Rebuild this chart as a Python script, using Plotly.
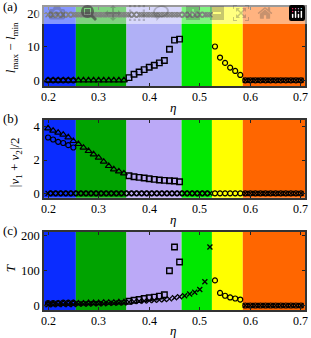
import plotly.graph_objects as go

# ---------------- data ----------------
# region boundaries along eta
REGION_EDGES = [0.19, 0.255, 0.355, 0.464, 0.524, 0.585, 0.71]
REGION_COLORS_A = ["#0a2cff", "#00a300", "#b0b0f6", "#00e800", "#ffff00", "#ff6600"]
REGION_COLORS_BC = ["#0a2cff", "#00a300", "#bba9f7", "#00e800", "#ffff00", "#ff6600"]

ETA_TRI = [0.20, 0.21, 0.22, 0.23, 0.24, 0.25, 0.26, 0.27, 0.28, 0.29, 0.30, 0.31, 0.32, 0.33, 0.34, 0.35]
ETA_CIRC_BLUE = [0.20, 0.21, 0.22, 0.23, 0.24, 0.25]
ETA_SQ = [0.36, 0.37, 0.38, 0.39, 0.40, 0.41, 0.42, 0.43, 0.44, 0.45, 0.46]
ETA_X = [0.20, 0.21, 0.22, 0.23, 0.24, 0.25, 0.26, 0.27, 0.28, 0.29, 0.30, 0.31, 0.32, 0.33, 0.34, 0.35,
         0.36, 0.37, 0.38, 0.39, 0.40, 0.41, 0.42, 0.43, 0.44, 0.45, 0.46,
         0.47, 0.48, 0.49, 0.50, 0.51, 0.52]
ETA_X_HALF = [0.205, 0.215, 0.225, 0.235, 0.245, 0.255, 0.265, 0.275, 0.285, 0.295, 0.305, 0.315, 0.325,
              0.335, 0.345, 0.355, 0.365, 0.375, 0.385, 0.395, 0.405, 0.415, 0.425, 0.435, 0.445, 0.455,
              0.465, 0.475, 0.485, 0.495, 0.505, 0.515]
ETA_CIRC_YEL = [0.53, 0.54, 0.55, 0.56, 0.57, 0.58]
ETA_ORANGE = [0.59, 0.60, 0.61, 0.62, 0.63, 0.64, 0.65, 0.66, 0.67, 0.68, 0.69, 0.70]

# panel (a): l_max - l_min
A_TRI = [0, 0, 0, 0, 0, 0, 0, 0, 0, 0, 0, 0, 0, 0, 0, 0]
A_CIRC_BLUE = [0, 0, 0, 0, 0, 0]
A_SQ = [0.8, 1.8, 2.5, 3.2, 3.9, 4.5, 5.2, 5.9, 9.3, 12.0, 12.3]
A_X = [19.6, 19.6, 19.6, 19.6, 19.6, 19.6, 19.6, 19.6, 19.6, 19.6, 19.6, 19.6, 19.6, 19.6, 19.6, 19.6,
       19.6, 19.6, 19.6, 19.6, 19.6, 19.6, 19.6, 19.6, 19.6, 19.6, 19.6,
       19.6, 19.6, 19.6, 19.6, 19.6, 19.6]
# second (half-step) marks on the top row, with the symbol of each point
A_HALF = [19.6, 19.6, 19.6, 19.6, 19.6, 19.6, 19.6, 19.6, 19.6, 19.6, 19.6, 19.6, 19.6, 19.6, 19.6, 19.6,
          19.6, 19.6, 19.6, 19.6, 19.6, 19.6, 19.6, 19.6, 19.6, 19.6, 19.6, 19.6, 19.6, 19.6, 19.6, 19.6]
A_HALF_SYM = ["o", "o", "o", "o", "o", "x", "x", "x", "x", "x", "x", "x", "x", "x", "x", "x",
              "o", "o", "x", "x", "x", "x", "x", "x", "x", "x", "o", "o", "o", "o", "o", "x"]
A_CIRC_YEL = [10.1, 6.8, 5.2, 3.8, 2.8, 1.6]
A_ORANGE = [0, 0, 0, 0, 0, 0, 0, 0, 0, 0, 0, 0]

# panel (b): |v1 + v2|/2
B_TRI = [3.90, 3.76, 3.64, 3.52, 3.36, 3.14, 2.96, 2.74, 2.54, 2.34, 2.14, 1.90, 1.64, 1.44, 1.32, 1.20]
B_CIRC_BLUE = [3.35, 3.23, 3.09, 3.02, 2.89, 2.75]
B_SQ = [1.06, 1.00, 0.96, 0.92, 0.88, 0.84, 0.80, 0.78, 0.76, 0.74, 0.70]
B_X = [0, 0, 0, 0, 0, 0, 0, 0, 0, 0, 0, 0, 0, 0, 0, 0, 0, 0, 0, 0, 0, 0, 0, 0, 0, 0, 0, 0, 0, 0, 0, 0, 0]
B_HALF = [0, 0, 0, 0, 0, 0, 0, 0, 0, 0, 0, 0, 0, 0, 0, 0, 0, 0, 0, 0, 0, 0, 0, 0, 0, 0, 0, 0, 0, 0, 0, 0]
B_CIRC_YEL = [0, 0, 0, 0, 0, 0]
B_ORANGE = [0, 0, 0, 0, 0, 0, 0, 0, 0, 0, 0, 0]

# panel (c): T
C_TRI = [4, 4, 5, 5, 5, 6, 6, 6, 7, 7, 7, 8, 8, 8, 9, 9]
C_CIRC_BLUE = [7, 7, 7, 8, 8, 8]
C_SQ = [12, 15, 17, 20, 22, 24, 27, 31, 100, 168, 125]
C_X = [2, 2, 3, 3, 3, 3, 4, 4, 4, 5, 5, 5, 6, 6, 7, 7,
       10, 11, 12, 13, 14, 15, 16, 17, 19, 22, 25,
       28, 33, 38, 46, 68, 168]
C_CIRC_YEL = [72, 36, 28, 23, 20, 17]
C_ORANGE = [0, 0, 0, 0, 0, 0, 0, 0, 0, 0, 0, 0]

X_TICKS = [0.2, 0.3, 0.4, 0.5, 0.6, 0.7]
X_TICK_TEXT = ["0.2", "0.3", "0.4", "0.5", "0.6", "0.7"]
A_YTICKS = [0, 10, 20]
B_YTICKS = [0, 2, 4]
C_YTICKS = [0, 100, 200]

# ---------------- figure ----------------
W, H = 311, 338
ML, MR, MT, MB = 44, 4, 7, 28
PW, PH = W - ML - MR, H - MT - MB


def px_x(px):
    return (px - ML) / PW


def px_y(py):
    return (H - MB - py) / PH


FONT = "Liberation Serif"
BLACK = "#000000"

MK = {
    "x": dict(symbol="x-thin", size=5, color=BLACK, line=dict(width=1.3, color=BLACK)),
    "o": dict(symbol="circle-open", size=5, color=BLACK, line=dict(width=1.2)),
    "s": dict(symbol="square-open", size=5.5, color=BLACK, line=dict(width=1.4)),
    "t": dict(symbol="triangle-up-open", size=6, color=BLACK, line=dict(width=1.2)),
}

fig = go.Figure()


def add(xs, ys, kind, ax):
    fig.add_trace(go.Scatter(x=xs, y=ys, mode="markers", marker=MK[kind],
                             xaxis="x" + ax, yaxis="y" + ax, showlegend=False,
                             hoverinfo="skip"))


def add_half(xs, ys, syms, ax):
    xs_o = [x for x, s in zip(xs, syms) if s == "o"]
    ys_o = [y for y, s in zip(ys, syms) if s == "o"]
    xs_x = [x for x, s in zip(xs, syms) if s == "x"]
    ys_x = [y for y, s in zip(ys, syms) if s == "x"]
    add(xs_o, ys_o, "o", ax)
    add(xs_x, ys_x, "x", ax)


# panel (a)
add(ETA_TRI, A_TRI, "t", "")
add(ETA_CIRC_BLUE, A_CIRC_BLUE, "o", "")
add(ETA_SQ, A_SQ, "s", "")
add(ETA_X, A_X, "x", "")
add_half(ETA_X_HALF, A_HALF, A_HALF_SYM, "")
add(ETA_CIRC_YEL, A_CIRC_YEL, "o", "")
add(ETA_ORANGE, A_ORANGE, "o", "")
add(ETA_ORANGE, A_ORANGE, "x", "")

# panel (b)
add(ETA_TRI, B_TRI, "t", "2")
add(ETA_CIRC_BLUE, B_CIRC_BLUE, "o", "2")
add(ETA_SQ, B_SQ, "s", "2")
add(ETA_X, B_X, "x", "2")
add(ETA_X_HALF, B_HALF, "o", "2")
add(ETA_CIRC_YEL, B_CIRC_YEL, "o", "2")
add(ETA_ORANGE, B_ORANGE, "o", "2")
add(ETA_ORANGE, B_ORANGE, "x", "2")

# panel (c)
add(ETA_TRI, C_TRI, "t", "3")
add(ETA_CIRC_BLUE, C_CIRC_BLUE, "o", "3")
add(ETA_X, C_X, "x", "3")
add(ETA_SQ, C_SQ, "s", "3")
add(ETA_CIRC_YEL, C_CIRC_YEL, "o", "3")
add(ETA_ORANGE, C_ORANGE, "o", "3")
add(ETA_ORANGE, C_ORANGE, "x", "3")

shapes = []
for ax, cols in (("", REGION_COLORS_A), ("2", REGION_COLORS_BC), ("3", REGION_COLORS_BC)):
    for i, c in enumerate(cols):
        shapes.append(dict(type="rect", xref="x" + ax, yref="y" + ax + " domain",
                           x0=REGION_EDGES[i], x1=REGION_EDGES[i + 1], y0=0, y1=1,
                           fillcolor=c, line=dict(width=0), layer="below"))

XR = [0.192, 0.708]
common_x = dict(range=XR, tickvals=X_TICKS, showticklabels=False,
                ticks="inside", ticklen=3, tickwidth=1.2, tickcolor="#222",
                showline=True, linewidth=1.6, linecolor="#333", mirror="allticks",
                showgrid=False, zeroline=False, domain=[0, 1])
common_y = dict(ticks="inside", ticklen=3, tickwidth=1.2, tickcolor="#222",
                showline=True, linewidth=1.6, linecolor="#333", mirror="allticks",
                showgrid=False, zeroline=False,
                tickfont=dict(family=FONT, size=12.5, color=BLACK))

dom_a = [px_y(86), 1]
dom_b = [px_y(197.7), px_y(120)]
dom_c = [0, px_y(231.7)]

fig.update_layout(
    width=W, height=H, margin=dict(l=ML, r=MR, t=MT, b=MB),
    paper_bgcolor="white", plot_bgcolor="white",
    xaxis=dict(common_x, anchor="y"),
    yaxis=dict(common_y, anchor="x", domain=dom_a, range=[-1.7, 21.9], tickvals=A_YTICKS),
    xaxis2=dict(common_x, anchor="y2"),
    yaxis2=dict(common_y, anchor="x2", domain=dom_b, range=[-0.26, 4.4], tickvals=B_YTICKS),
    xaxis3=dict(common_x, anchor="y3"),
    yaxis3=dict(common_y, anchor="x3", domain=dom_c, range=[-13, 212], tickvals=C_YTICKS),
    shapes=shapes,
)

ann = []
tf = dict(family=FONT, size=13, color=BLACK)
tkf = dict(family=FONT, size=12, color=BLACK)
# x tick labels placed on each axis' own scale
for ax, py in (("x", 97), ("x2", 209), ("x3", 321)):
    for v, t in zip(X_TICKS, X_TICK_TEXT):
        ann.append(dict(text=t, x=v, y=px_y(py), xref=ax, yref="paper",
                        xanchor="center", yanchor="middle", showarrow=False,
                        borderpad=0, font=tkf))
for lab, py in (("(a)", 6.5), ("(b)", 118), ("(c)", 230)):
    ann.append(dict(text=lab, x=px_x(10), y=px_y(py), xref="paper", yref="paper",
                    xanchor="center", yanchor="middle", showarrow=False, font=tf))
for py in (107, 219, 330):
    ann.append(dict(text="<i>η</i>", x=px_x(174), y=px_y(py), xref="paper", yref="paper",
                    xanchor="center", yanchor="middle", showarrow=False, font=tf))
ann.append(dict(text="<i>l</i><sub>max</sub> − <i>l</i><sub>min</sub>", x=px_x(12), y=px_y(48),
                xref="paper", yref="paper", xanchor="center", yanchor="middle",
                textangle=-90, showarrow=False, font=tf))
ann.append(dict(text="|<i>v</i><sub>1</sub> + <i>v</i><sub>2</sub>|/2", x=px_x(15), y=px_y(162),
                xref="paper", yref="paper", xanchor="center", yanchor="middle",
                textangle=-90, showarrow=False, font=tf))
ann.append(dict(text="<i>T</i>", x=px_x(10), y=px_y(268),
                xref="paper", yref="paper", xanchor="center", yanchor="middle",
                textangle=-90, showarrow=False, font=tf))
fig.update_layout(annotations=ann)

# remove the page's default 8px body margin so the figure sits at the window's corner
fig.write_html("out.html",
               post_script="document.body.style.margin='0px';document.body.style.overflow='hidden';")
